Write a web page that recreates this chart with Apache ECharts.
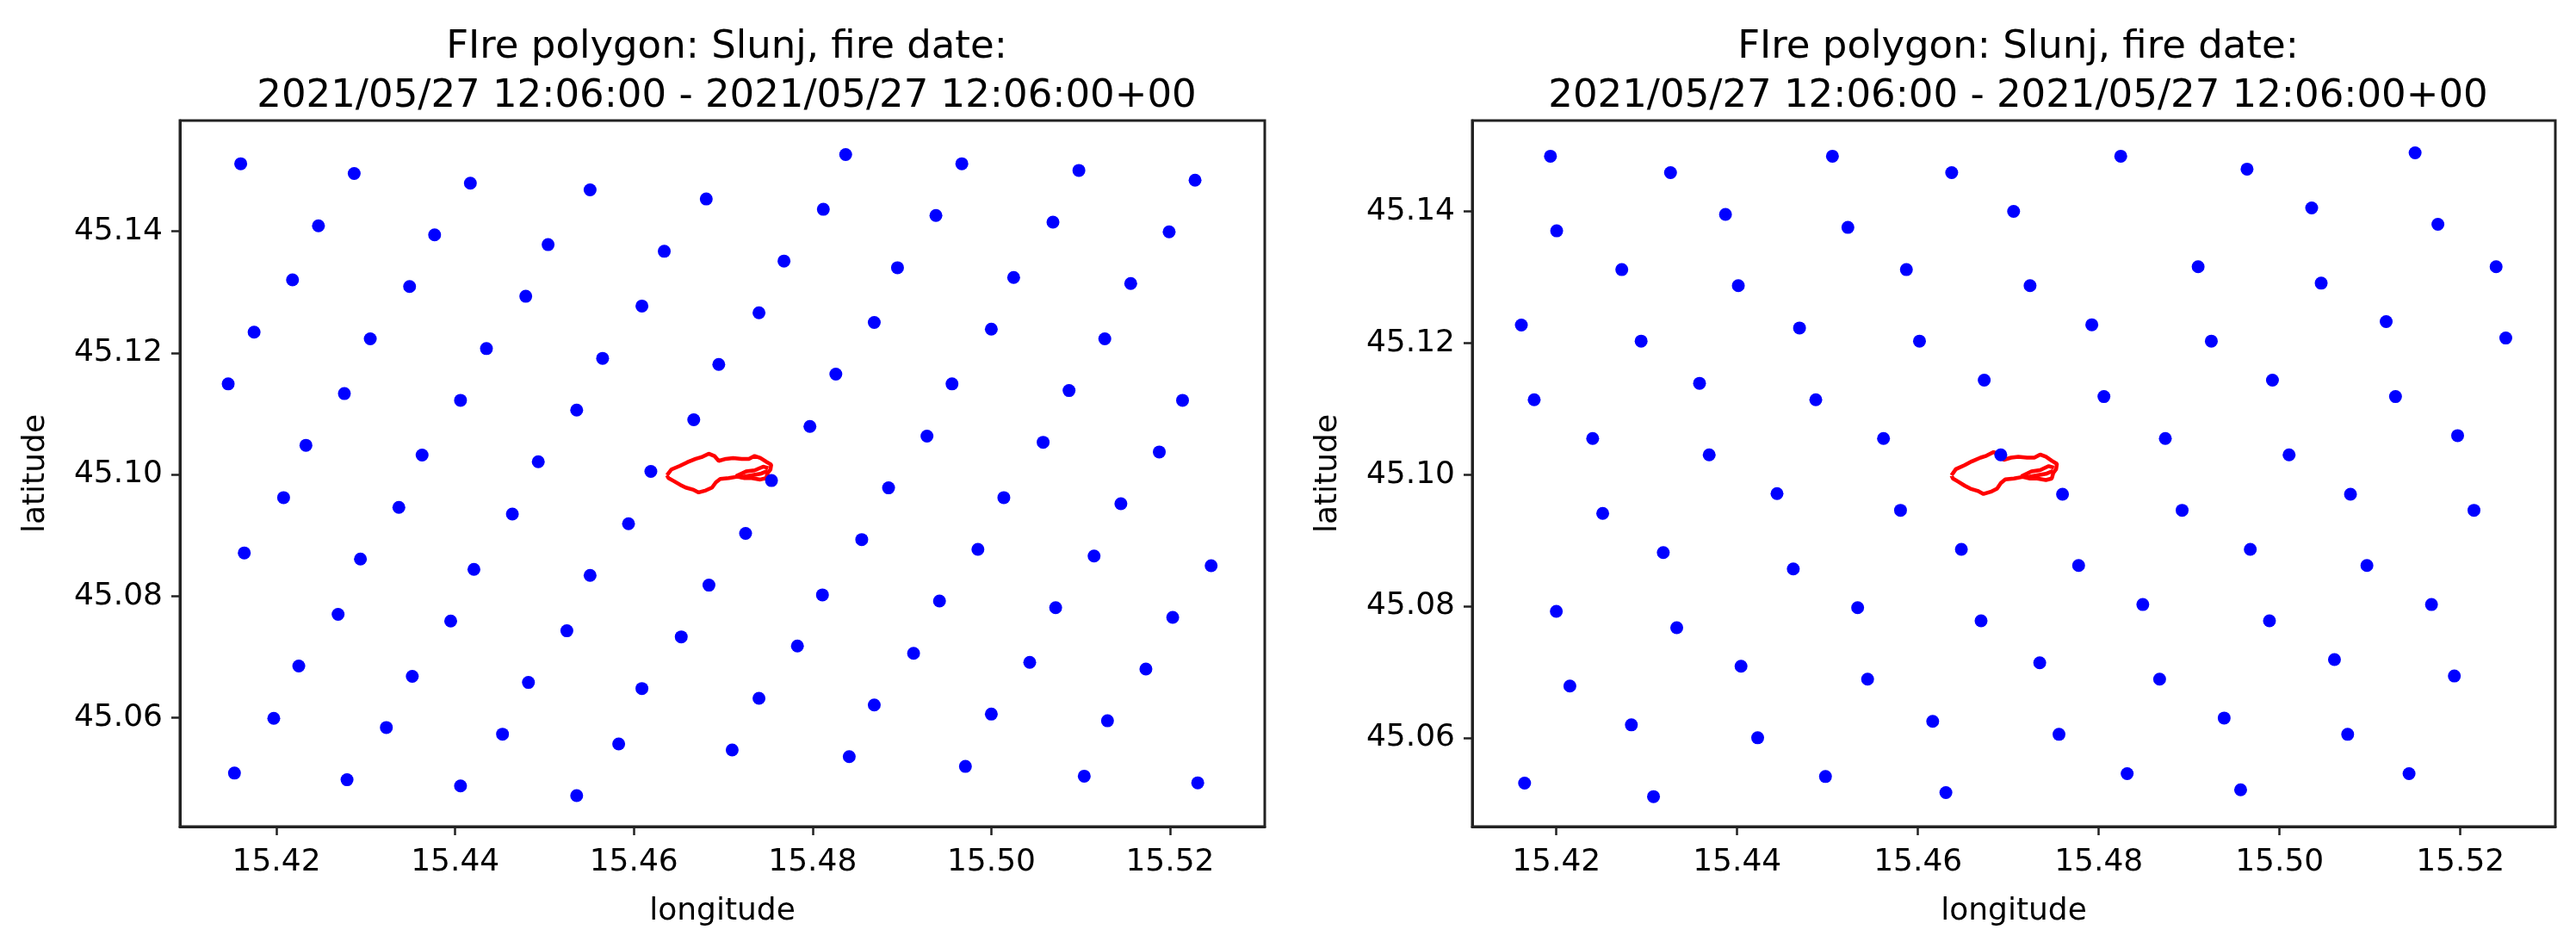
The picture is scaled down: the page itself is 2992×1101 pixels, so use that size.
<!DOCTYPE html>
<html><head><meta charset="utf-8">
<script src="https://cdn.jsdelivr.net/npm/echarts@6/dist/echarts.min.js"></script>
<style>html,body{margin:0;padding:0;background:#fff}#c{width:2992px;height:1101px}</style>
</head><body><div id="c"></div>
<script>
const titleText = 'FIre polygon: Slunj, fire date:\n2021/05/27 12:06:00 - 2021/05/27 12:06:00+00';
const xName = 'longitude';
const yName = 'latitude';
const xTicks = [15.42, 15.44, 15.46, 15.48, 15.50, 15.52];
const yTicks = [45.06, 45.08, 45.10, 45.12, 45.14];

// left panel sample points
const leftLon = [
 15.4160,15.4287,15.4417,15.4551,15.4681,
 15.4247,15.4377,15.4504,15.4634,
 15.4218,15.4349,15.4479,15.4609,
 15.4175,15.4305,15.4435,15.4565,15.4695,
 15.4146,15.4276,15.4406,15.4536,15.4667,
 15.4233,15.4363,15.4493,15.4619,
 15.4837,15.4967,15.5098,15.5228,
 15.4812,15.4938,15.5069,15.5199,
 15.4768,15.4895,15.5025,15.5156,
 15.4740,15.4869,15.5000,15.5127,
 15.4826,15.4956,15.5087,15.5214,
 15.4797,15.4928,15.5058,15.5188,
 15.4754,15.4885,15.5014,15.5145,
 15.4725,15.4855,15.4985,15.5115,15.5246,
 15.4684,15.4811,15.4942,15.5072,15.5203,
 15.4783,15.4913,15.5043,15.5173,
 15.4740,15.4869,15.5000,15.5130,
 15.4710,15.4841,15.4971,15.5104,15.5231,
 15.4208,15.4337,15.4464,15.4594,
 15.4164,15.4294,15.4421,15.4551,
 15.4269,15.4395,15.4525,15.4653,
 15.4225,15.4352,15.4482,15.4609,
 15.4197,15.4323,15.4453,15.4583,
 15.4153,15.4279,15.4406,15.4536
];
const leftLat = [
 45.1511,45.1495,45.1479,45.1468,45.1453,
 45.1409,45.1394,45.1378,45.1367,
 45.1320,45.1309,45.1293,45.1277,
 45.1234,45.1223,45.1207,45.1191,45.1181,
 45.1149,45.1133,45.1122,45.1106,45.1090,
 45.1048,45.1032,45.1021,45.1005,
 45.1526,45.1511,45.1500,45.1484,
 45.1436,45.1426,45.1415,45.1399,
 45.1351,45.1340,45.1324,45.1314,
 45.1266,45.1250,45.1239,45.1223,
 45.1165,45.1149,45.1138,45.1122,
 45.1079,45.1063,45.1053,45.1037,
 45.0990,45.0978,45.0962,45.0952,
 45.0903,45.0893,45.0877,45.0866,45.0850,
 45.0818,45.0802,45.0792,45.0781,45.0765,
 45.0718,45.0706,45.0691,45.0680,
 45.0632,45.0621,45.0606,45.0595,
 45.0547,45.0536,45.0520,45.0504,45.0493,
 45.0962,45.0946,45.0935,45.0919,
 45.0871,45.0861,45.0844,45.0834,
 45.0770,45.0759,45.0743,45.0733,
 45.0685,45.0668,45.0658,45.0648,
 45.0599,45.0584,45.0573,45.0557,
 45.0509,45.0498,45.0488,45.0472
];

// right panel sample points
const rightLon = [
 15.41935,15.43263,15.45054,15.46373,
 15.42004,15.43871,15.45225,
 15.42724,15.44013,15.45872,
 15.41613,15.42938,15.44690,15.46017,
 15.41755,15.43584,15.44870,15.46733,
 15.42402,15.43691,15.45619,15.46916,
 15.48243,15.49640,15.51499,
 15.47058,15.50355,15.51751,
 15.47240,15.49099,15.50460,15.52395,
 15.47923,15.49245,15.51179,15.52502,
 15.48057,15.49921,15.51282,
 15.48736,15.50105,15.51969,
 15.44441,15.45807,
 15.42513,15.43183,15.44621,15.46480,
 15.42000,15.43332,15.45333,15.46698,
 15.44043,15.45443,
 15.42150,15.42830,15.44227,15.46163,
 15.41649,15.43075,15.44977,15.46309,
 15.47599,15.48922,15.50784,15.52150,
 15.47777,15.49676,15.50966,
 15.48487,15.49888,15.51680,
 15.47347,15.48673,15.50607,15.51933,
 15.47560,15.49387,15.50753,
 15.48314,15.49569,15.51432
];
const rightLat = [
 45.14838,45.14589,45.14838,45.14589,
 45.13704,45.13953,45.13756,
 45.13115,45.12870,45.13115,
 45.12272,45.12028,45.12228,45.12028,
 45.11138,45.11387,45.11138,45.11434,
 45.10549,45.10300,45.10549,45.10300,
 45.14838,45.14642,45.14890,
 45.14000,45.14052,45.13804,
 45.12870,45.13158,45.12909,45.13158,
 45.12277,45.12028,45.12324,45.12075,
 45.11185,45.11434,45.11185,
 45.10549,45.10300,45.10592,
 45.09711,45.09457,
 45.09410,45.08815,45.08566,45.08864,
 45.07921,45.07672,45.07977,45.07777,
 45.07087,45.06890,
 45.06786,45.06196,45.06000,45.06249,
 45.05311,45.05106,45.05411,45.05167,
 45.09701,45.09457,45.09701,45.09457,
 45.08619,45.08864,45.08619,
 45.08025,45.07777,45.08025,
 45.07139,45.06890,45.07188,45.06939,
 45.06052,45.06300,45.06052,
 45.05455,45.05210,45.05455
];

// fire polygon outline
const polyLon = [15.46371,15.46419,15.46516,15.46596,15.46692,15.46757,15.46837,15.46901,15.46949,15.47030,15.47110,15.47206,15.47287,15.47351,15.47415,15.47480,15.47537,15.47528,15.47496,15.47480,15.47415,15.47319,15.47239,15.47158,15.47062,15.46966,15.46917,15.46875,15.46805,15.46725,15.46660,15.46580,15.46516,15.46445,15.46387,15.46371];
const polyLat = [45.09988,45.10082,45.10143,45.10200,45.10257,45.10285,45.10342,45.10304,45.10224,45.10257,45.10271,45.10257,45.10257,45.10304,45.10271,45.10210,45.10162,45.10082,45.10021,45.09940,45.09917,45.09940,45.09940,45.09964,45.09940,45.09926,45.09870,45.09785,45.09738,45.09705,45.09752,45.09785,45.09832,45.09893,45.09940,45.09988];
const innerLonA = [15.47142,15.47255,15.47351,15.47447,15.47505];
const innerLatA = [45.09973,45.10049,45.10068,45.10129,45.10106];
const innerLonB = [15.47190,15.47319,15.47415,15.47496];
const innerLatB = [45.09955,45.09988,45.10011,45.10058];

const zip = (a, b) => a.map((v, i) => [v, b[i]]);
const FONT = 'DejaVu Sans';
const AX = '#222';

function xAxis(gi, min, max) {
  return {
    type: 'value', gridIndex: gi, min: min, max: max,
    name: xName, nameLocation: 'middle', nameGap: 81,
    nameTextStyle: { fontFamily: FONT, fontSize: 36, color: '#000' },
    axisLine: { show: true, lineStyle: { color: AX, width: 3 } },
    axisTick: { show: true, length: 10, lineStyle: { color: AX, width: 2.5 }, customValues: xTicks },
    axisLabel: { fontFamily: FONT, fontSize: 36, color: '#000', margin: 24, customValues: xTicks, formatter: v => v.toFixed(2) },
    splitLine: { show: false }
  };
}
function yAxis(gi, min, max) {
  return {
    type: 'value', gridIndex: gi, min: min, max: max,
    name: yName, nameLocation: 'middle', nameGap: 149, nameRotate: 90,
    nameTextStyle: { fontFamily: FONT, fontSize: 36, color: '#000' },
    axisLine: { show: true, lineStyle: { color: AX, width: 3 } },
    axisTick: { show: true, length: 10, lineStyle: { color: AX, width: 2.5 }, customValues: yTicks },
    axisLabel: { fontFamily: FONT, fontSize: 36, color: '#000', margin: 20, customValues: yTicks, formatter: v => v.toFixed(2) },
    splitLine: { show: false }
  };
}
function lineSeries(gi, lon, lat) {
  return {
    type: 'line', xAxisIndex: gi, yAxisIndex: gi, data: zip(lon, lat),
    showSymbol: false, symbol: 'none', smooth: false, z: 2, silent: true,
    lineStyle: { color: '#ff0000', width: 4.5 }, animation: false
  };
}
function dotSeries(gi, lon, lat) {
  return {
    type: 'scatter', xAxisIndex: gi, yAxisIndex: gi, data: zip(lon, lat),
    symbol: 'circle', symbolSize: 15, z: 5,
    itemStyle: { color: '#0000ff', opacity: 1 }, animation: false
  };
}

const chart = echarts.init(document.getElementById('c'), null, { renderer: 'canvas' });
chart.setOption({
  backgroundColor: '#fff',
  animation: false,
  title: [
    { text: titleText, left: 839, top: 22, textAlign: 'center',
      textStyle: { fontFamily: FONT, fontSize: 45, fontWeight: 'normal', lineHeight: 57, color: '#000' } },
    { text: titleText, left: 2339, top: 22, textAlign: 'center',
      textStyle: { fontFamily: FONT, fontSize: 45, fontWeight: 'normal', lineHeight: 57, color: '#000' } }
  ],
  grid: [
    { left: 209, top: 140, width: 1260, height: 820, show: true, borderColor: AX, borderWidth: 3, backgroundColor: '#fff' },
    { left: 1710, top: 140, width: 1258, height: 820, show: true, borderColor: AX, borderWidth: 3, backgroundColor: '#fff' }
  ],
  xAxis: [xAxis(0, 15.4092, 15.5306), xAxis(1, 15.4107, 15.5305)],
  yAxis: [yAxis(0, 45.0421, 45.1582), yAxis(1, 45.0465, 45.1538)],
  series: [
    lineSeries(0, polyLon, polyLat),
    lineSeries(0, innerLonA, innerLatA),
    lineSeries(0, innerLonB, innerLatB),
    dotSeries(0, leftLon, leftLat),
    lineSeries(1, polyLon, polyLat),
    lineSeries(1, innerLonA, innerLatA),
    lineSeries(1, innerLonB, innerLatB),
    dotSeries(1, rightLon, rightLat)
  ]
});
</script></body></html>
